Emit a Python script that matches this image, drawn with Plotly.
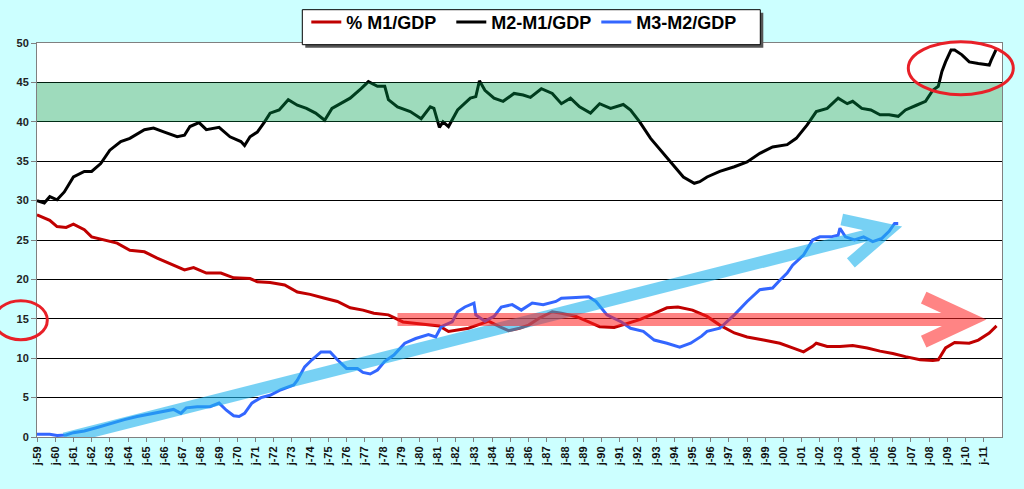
import plotly.graph_objects as go

# -----------------------------
# Data (decimal years, % of GDP)
# -----------------------------
m1_years = [1959.0, 1959.4, 1959.7, 1960.1, 1960.6, 1961.0, 1961.6, 1962.0, 1962.7, 1963.4,
            1964.1, 1964.9, 1965.6, 1966.3, 1967.1, 1967.6, 1968.3, 1969.1, 1969.8, 1970.7,
            1971.1, 1971.8, 1972.6, 1973.3, 1974.0, 1974.8, 1975.5, 1976.2, 1976.9, 1977.5,
            1978.3, 1979.1, 1979.8, 1980.5, 1981.1, 1981.6, 1982.1, 1982.7, 1983.3, 1983.8,
            1984.4, 1984.9, 1985.5, 1986.0, 1986.6, 1987.3, 1987.8, 1988.6, 1989.3, 1989.9,
            1990.7, 1991.4, 1992.1, 1992.9, 1993.6, 1994.2, 1995.0, 1995.8, 1996.5, 1997.3,
            1998.0, 1998.9, 1999.8, 2000.5, 2001.1, 2001.6, 2001.8, 2002.4, 2003.1, 2003.8,
            2004.6, 2005.3, 2006.0, 2006.7, 2007.5, 2008.2, 2008.5, 2008.9, 2009.4, 2010.2,
            2010.7, 2011.3, 2011.7]
m1_gdp = [28.2, 27.8, 27.5, 26.7, 26.6, 27.0, 26.3, 25.4, 25.0, 24.6,
          23.7, 23.5, 22.7, 22.0, 21.2, 21.5, 20.8, 20.8, 20.2, 20.1,
          19.7, 19.6, 19.3, 18.4, 18.1, 17.6, 17.2, 16.4, 16.1, 15.7,
          15.5, 14.6, 14.4, 14.2, 14.1, 13.4, 13.6, 13.8, 14.3, 14.7,
          14.0, 13.5, 13.8, 14.2, 15.1, 15.9, 15.7, 15.3, 14.6, 14.0,
          13.9, 14.4, 14.9, 15.7, 16.4, 16.5, 16.1, 15.3, 14.2, 13.2,
          12.7, 12.3, 11.9, 11.3, 10.8, 11.5, 11.9, 11.5, 11.5, 11.6,
          11.3, 10.9, 10.6, 10.2, 9.8, 9.7, 9.8, 11.3, 12.0, 11.9,
          12.3, 13.2, 14.1]

m2m1_years = [1959.0, 1959.4, 1959.7, 1960.1, 1960.5, 1961.0, 1961.6, 1962.0, 1962.5, 1963.0,
              1963.6, 1964.1, 1964.9, 1965.4, 1966.0, 1966.7, 1967.1, 1967.4, 1967.9, 1968.3,
              1969.0, 1969.6, 1970.2, 1970.4, 1970.7, 1971.1, 1971.5, 1971.8, 1972.3, 1972.8,
              1973.3, 1973.8, 1974.3, 1974.8, 1975.2, 1975.7, 1976.2, 1976.8, 1977.2, 1977.7,
              1978.1, 1978.3, 1978.8, 1979.5, 1980.1, 1980.6, 1980.8, 1981.1, 1981.3, 1981.6,
              1982.1, 1982.8, 1983.1, 1983.3, 1983.6, 1984.1, 1984.6, 1985.2, 1985.7, 1986.1,
              1986.7, 1987.3, 1987.8, 1988.3, 1988.8, 1989.4, 1989.9, 1990.5, 1991.2, 1991.6,
              1992.1, 1992.7, 1993.4, 1994.0, 1994.5, 1995.1, 1995.4, 1995.8, 1996.5, 1997.3,
              1998.0, 1998.7, 1999.4, 2000.2, 2000.7, 2001.3, 2001.8, 2002.4, 2003.0, 2003.5,
              2003.8, 2004.3, 2004.8, 2005.3, 2005.8, 2006.3, 2006.7, 2007.3, 2007.8, 2008.2,
              2008.5, 2008.7, 2008.9, 2009.2, 2009.4, 2009.8, 2010.2, 2010.7, 2011.3, 2011.4,
              2011.7]
m2m1_gdp = [30.0, 29.7, 30.5, 30.1, 31.1, 33.0, 33.7, 33.7, 34.7, 36.4,
            37.5, 37.9, 39.0, 39.2, 38.7, 38.1, 38.3, 39.4, 39.9, 39.0,
            39.3, 38.1, 37.5, 37.0, 38.1, 38.7, 40.0, 41.1, 41.5, 42.8,
            42.1, 41.7, 41.1, 40.2, 41.7, 42.3, 43.0, 44.2, 45.1, 44.5,
            44.5, 42.8, 41.9, 41.3, 40.4, 41.9, 41.7, 39.3, 40.0, 39.4,
            41.5, 43.0, 43.2, 45.2, 44.0, 43.0, 42.6, 43.6, 43.4, 43.1,
            44.2, 43.6, 42.3, 43.0, 41.9, 41.1, 42.3, 41.7, 42.2, 41.5,
            40.0, 37.9, 36.0, 34.3, 33.0, 32.2, 32.4, 33.0, 33.7, 34.3,
            34.9, 36.0, 36.8, 37.1, 37.9, 39.6, 41.3, 41.7, 43.0, 42.3,
            42.6, 41.7, 41.5, 40.9, 40.9, 40.7, 41.5, 42.1, 42.6, 44.0,
            44.5, 46.4, 47.6, 49.1, 49.1, 48.5, 47.6, 47.4, 47.2, 47.8,
            49.3]

m3m2_years = [1959.0, 1959.7, 1960.1, 1960.6, 1961.0, 1961.6, 1962.3, 1963.0, 1963.8, 1964.5,
              1965.2, 1966.0, 1966.5, 1966.9, 1967.2, 1967.8, 1968.5, 1969.0, 1969.4, 1969.8,
              1970.1, 1970.4, 1970.8, 1971.3, 1971.8, 1972.4, 1973.1, 1973.3, 1973.7, 1974.1,
              1974.6, 1975.1, 1975.5, 1976.0, 1976.6, 1976.9, 1977.3, 1977.7, 1978.1, 1978.6,
              1979.2, 1979.8, 1980.5, 1980.9, 1981.2, 1981.8, 1982.1, 1982.5, 1983.0, 1983.1,
              1983.6, 1984.1, 1984.5, 1985.1, 1985.6, 1986.2, 1986.8, 1987.5, 1987.8, 1988.6,
              1989.3, 1989.7, 1990.0, 1990.3, 1991.1, 1991.6, 1992.3, 1992.9, 1993.6, 1994.3,
              1994.9, 1995.5, 1995.8, 1996.5, 1997.3, 1998.0, 1998.7, 1999.4, 1999.8, 2000.2,
              2000.5, 2001.1, 2001.6, 2002.0, 2002.6, 2003.0, 2003.1, 2003.4, 2003.9, 2004.4,
              2004.9, 2005.4, 2005.8, 2006.1, 2006.3]
m3m2_gdp = [0.34, 0.34, 0.2, 0.25, 0.55, 0.76, 1.2, 1.7, 2.2, 2.6,
            2.9, 3.2, 3.5, 3.0, 3.7, 3.85, 3.85, 4.3, 3.4, 2.7,
            2.6, 3.0, 4.3, 5.0, 5.3, 6.0, 6.6, 7.2, 8.9, 9.8,
            10.8, 10.8, 9.8, 8.7, 8.7, 8.2, 8.0, 8.5, 9.6, 10.4,
            11.9, 12.5, 13.0, 12.7, 14.0, 14.6, 15.9, 16.5, 17.0, 15.5,
            14.7, 15.3, 16.5, 16.8, 16.1, 17.0, 16.8, 17.2, 17.6, 17.7,
            17.8, 17.2, 16.3, 15.5, 14.6, 13.8, 13.4, 12.3, 11.9, 11.4,
            11.9, 12.8, 13.4, 13.8, 15.5, 17.2, 18.7, 18.9, 19.9, 20.8,
            21.8, 23.1, 25.0, 25.4, 25.4, 25.6, 26.5, 25.4, 25.0, 25.4,
            24.8, 25.2, 26.1, 27.1, 27.1]

tick_years = list(range(1959, 2012))
tick_labels = ["j-%02d" % (y % 100) for y in tick_years]

# -----------------------------
# Figure
# -----------------------------
fig = go.Figure()

fig.add_trace(go.Scatter(x=m1_years, y=m1_gdp, mode="lines", name="% M1/GDP",
                         line=dict(color="#C00000", width=3)))
fig.add_trace(go.Scatter(x=m2m1_years, y=m2m1_gdp, mode="lines", name="M2-M1/GDP",
                         line=dict(color="#000000", width=3)))
fig.add_trace(go.Scatter(x=m3m2_years, y=m3m2_gdp, mode="lines", name="M3-M2/GDP",
                         line=dict(color="#3366FF", width=3)))


# pixel -> paper helpers for the hand-drawn decorations
def px(x):
    return (x - 36.7) / 965


def py(y):
    return (437.3 - y) / 394


shapes = [
    # green "normal" band 40-45
    dict(type="rect", xref="x domain", yref="y", x0=0, x1=1, y0=40, y1=45,
         fillcolor="#00A050", opacity=0.38, line=dict(width=0), layer="above"),
    # blue trend arrow
    dict(type="path", xref="x", yref="y", layer="above", opacity=0.6,
         path="M 1960.5,-0.2 L 2005.8,26.3 M 2003.2,27.6 L 2005.8,26.3 L 2003.7,22.1",
         line=dict(color="#1EB4EE", width=12)),
    # red flat arrow
    dict(type="path", xref="x", yref="y", layer="above", opacity=0.55,
         path="M 1978.8,14.9 L 2010.3,14.9 M 2007.7,17.7 L 2010.3,14.9 L 2007.7,12.1",
         line=dict(color="#FF2020", width=13)),
    # red circles
    dict(type="circle", xref="paper", yref="paper", x0=px(-6), x1=px(47), y0=py(340), y1=py(301),
         line=dict(color="#E82028", width=3), layer="above"),
    dict(type="circle", xref="paper", yref="paper", x0=px(908), x1=px(1013), y0=py(95), y1=py(42),
         line=dict(color="#E82028", width=3), layer="above"),
    # legend shadow and box
    dict(type="rect", xref="paper", yref="paper", x0=px(305), x1=px(763), y0=py(48), y1=py(13),
         fillcolor="#555555", line=dict(width=0), layer="above"),
    dict(type="rect", xref="paper", yref="paper", x0=px(302), x1=px(760), y0=py(45), y1=py(10),
         fillcolor="#FFFFFF", line=dict(color="#000000", width=1), layer="above"),
]

fig.update_layout(
    width=1024,
    height=489,
    margin=dict(l=37, r=22, t=43, b=52, autoexpand=False),
    paper_bgcolor="#CCFFFF",
    plot_bgcolor="#FFFFFF",
    font=dict(family="Liberation Sans, Arial", color="#111111"),
    shapes=shapes,
    showlegend=True,
    legend=dict(
        orientation="h",
        x=px(306), xanchor="left",
        y=py(4), yanchor="top",
        bgcolor="rgba(0,0,0,0)",
        borderwidth=0,
        font=dict(size=18, weight="bold", color="#000000"),
        entrywidth=100,
        itemwidth=30,
    ),
)

fig.update_xaxes(
    range=[1959, 2012],
    tickmode="array",
    tickvals=tick_years,
    ticktext=tick_labels,
    tickangle=-90,
    ticks="outside",
    ticklen=4,
    tickcolor="#808080",
    tickfont=dict(size=11, weight="bold", color="#111111"),
    showgrid=False,
    zeroline=False,
    showline=True,
    linecolor="#808080",
    linewidth=1,
    mirror=True,
)

fig.update_yaxes(
    range=[0, 50],
    dtick=5,
    ticks="outside",
    ticklen=5,
    tickcolor="#808080",
    tickfont=dict(size=11, weight="bold", color="#222222"),
    showgrid=True,
    gridcolor="#000000",
    gridwidth=1,
    zeroline=False,
    showline=True,
    linecolor="#808080",
    linewidth=1,
    mirror=True,
)

fig.write_html("out.html", config={"displayModeBar": False},
               post_script="document.body.style.margin='0';")
